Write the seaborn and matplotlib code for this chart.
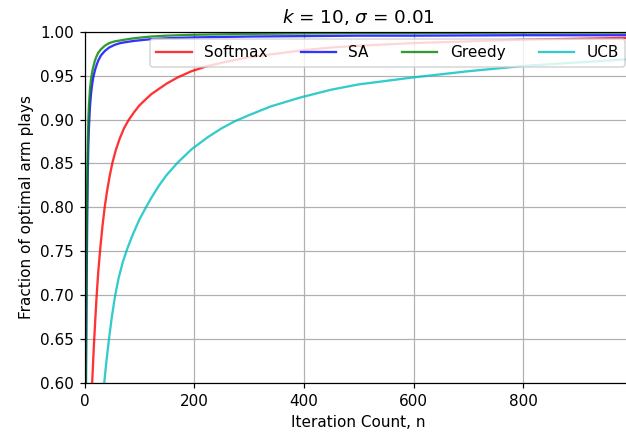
import matplotlib
matplotlib.use("Agg")
import matplotlib.pyplot as plt
import seaborn as sns
import pandas as pd

# ---- data ----
greedy_x = [0, 1, 2, 3, 4, 5, 6, 7, 8, 10, 12, 14, 16, 19, 22, 25, 30, 37, 45, 55, 65, 74, 90, 105, 122, 150, 200, 300, 400, 500, 600, 800, 999]
greedy_y = [0.10, 0.35, 0.55, 0.68, 0.77, 0.83, 0.87, 0.90, 0.915, 0.935, 0.946, 0.954, 0.960, 0.967, 0.972, 0.976, 0.980, 0.984, 0.987, 0.989, 0.990, 0.991, 0.9925, 0.9935, 0.9945, 0.9955, 0.9965, 0.9975, 0.998, 0.9985, 0.9985, 0.999, 0.999]

sa_x = greedy_x
sa_y = [0.10, 0.30, 0.50, 0.63, 0.72, 0.79, 0.84, 0.87, 0.89, 0.915, 0.93, 0.94, 0.948, 0.956, 0.962, 0.967, 0.973, 0.978, 0.982, 0.985, 0.987, 0.988, 0.9895, 0.9905, 0.9915, 0.9925, 0.9935, 0.9945, 0.995, 0.9955, 0.9955, 0.996, 0.996]

softmax_x = [0, 10, 14, 16, 18, 20, 22, 25, 29, 33, 37, 41, 46, 51, 57, 64, 72, 80, 90, 100, 110, 122, 136, 150, 170, 195, 225, 260, 300, 350, 400, 450, 500, 600, 700, 800, 900, 999]
softmax_y = [0.20, 0.50, 0.600, 0.628, 0.653, 0.676, 0.698, 0.726, 0.755, 0.780, 0.801, 0.818, 0.836, 0.851, 0.865, 0.878, 0.890, 0.899, 0.908, 0.916, 0.922, 0.929, 0.935, 0.941, 0.948, 0.955, 0.961, 0.966, 0.971, 0.975, 0.979, 0.982, 0.984, 0.987, 0.989, 0.991, 0.992, 0.993]

ucb_x = [0, 20, 30, 36, 40, 45, 50, 56, 62, 70, 78, 88, 100, 112, 122, 136, 150, 170, 195, 225, 250, 274, 300, 340, 393, 450, 500, 550, 600, 700, 800, 900, 999]
ucb_y = [0.20, 0.45, 0.56, 0.600, 0.625, 0.652, 0.676, 0.700, 0.719, 0.738, 0.753, 0.769, 0.786, 0.800, 0.811, 0.825, 0.837, 0.851, 0.866, 0.880, 0.890, 0.898, 0.905, 0.915, 0.925, 0.934, 0.940, 0.944, 0.948, 0.955, 0.961, 0.965, 0.969]

algos = ["Softmax", "SA", "Greedy", "UCB"]
colors = ["r", "b", "g", "c"]

frames = []
for name, xs, ys in [("Softmax", softmax_x, softmax_y), ("SA", sa_x, sa_y),
                     ("Greedy", greedy_x, greedy_y), ("UCB", ucb_x, ucb_y)]:
    frames.append(pd.DataFrame({"n": xs, "frac": ys, "algo": name}))
df = pd.concat(frames, ignore_index=True)

DPI = 110
fig = plt.figure(figsize=(626 / DPI, 442 / DPI), dpi=DPI)
ax = fig.add_axes([84.5 / 626, 1 - 383 / 442, (632.4 - 84.5) / 626, (383 - 31.7) / 442])

sns.lineplot(data=df, x="n", y="frac", hue="algo", hue_order=algos,
             palette=dict(zip(algos, colors)), alpha=0.8, linewidth=1.5,
             errorbar=None, sort=True, ax=ax)

ax.set_xlim(0, 999)
ax.set_ylim(0.60, 1.00)
ax.set_xticks([0, 200, 400, 600, 800])
yt = [0.60, 0.65, 0.70, 0.75, 0.80, 0.85, 0.90, 0.95, 1.00]
ax.set_yticks(yt)
ax.set_yticklabels([f"{v:.2f}" for v in yt])
ax.grid(True)
ax.set_xlabel("Iteration Count, n")
ax.set_ylabel("Fraction of optimal arm plays")
ax.set_title(r"$k$ = 10, $\sigma$ = 0.01")
handles, labels = ax.get_legend_handles_labels()
ax.legend(handles, labels, loc="upper right", ncol=4,
          handlelength=2.3, columnspacing=2.2)

fig.savefig("out.png", dpi=DPI)
